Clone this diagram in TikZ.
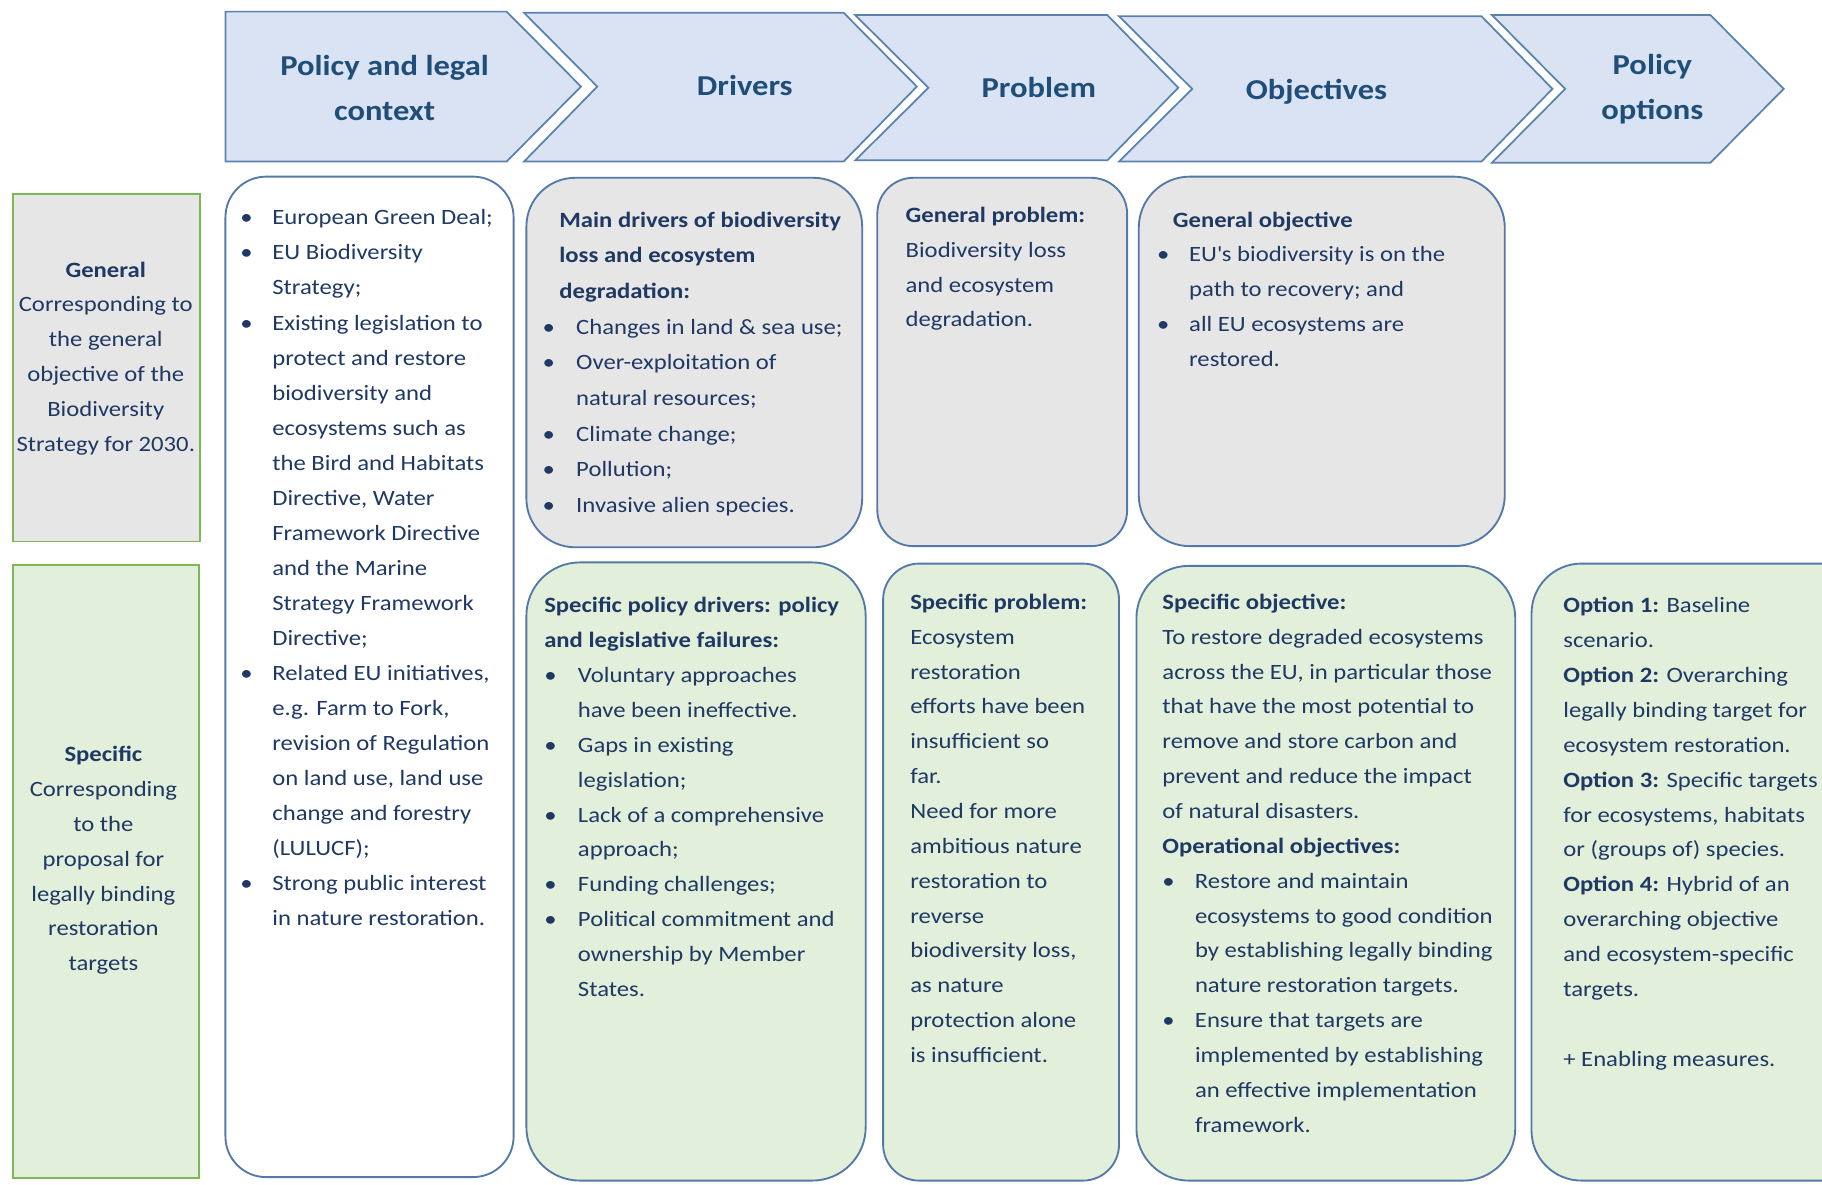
\documentclass[tikz,border=0pt]{standalone}
\usepackage{fontspec}
\setmainfont{Carlito}[FakeStretch=1.13]
\definecolor{hdrfill}{HTML}{DAE3F3}
\definecolor{hdrdraw}{HTML}{5A82AE}
\definecolor{hdrtext}{HTML}{1F4E79}
\definecolor{boxdraw}{HTML}{5479A8}
\definecolor{grayfill}{HTML}{E6E6E6}
\definecolor{greenfill}{HTML}{E2EFDA}
\definecolor{sidegreen}{HTML}{7DB852}
\definecolor{bodytext}{HTML}{1F3864}
\newlength\bw
\newcommand\bl{\makebox[\bw][l]{\textbullet}}
\newcommand\bi{\hspace*{\bw}}
\tikzset{
  hdr/.style={draw=hdrdraw, fill=hdrfill, line width=0.75pt, line join=miter},
  hdrtxt/.style={text=hdrtext, font=\fontsize{12.4}{19.5}\selectfont\bfseries, align=center, inner sep=0pt},
  rbox/.style={draw=boxdraw, line width=0.8pt, rounded corners=#1},
  sidebox/.style={draw=sidegreen, line width=0.8pt},
  body/.style={text=bodytext, font=\fontsize{9.4}{15}\selectfont, inner sep=0pt, anchor=north west, align=left},
  bwidth/.style={execute at begin node={\setlength\bw{#1}}},
}
\begin{document}
\begin{tikzpicture}[x=0.5pt,y=-0.5pt]
\useasboundingbox (0,0) rectangle (1568,1019);
\clip (0,0) rectangle (1568,1019);
% header chevrons
\draw[hdr] (194,10) -- (436,10) -- (500,74.5) -- (436,139) -- (194,139) -- cycle;
\draw[hdr] (451,11) -- (726,11) -- (789,74.5) -- (726,139) -- (451,139) -- (514,74.5) -- cycle;
\draw[hdr] (736,13) -- (953,13) -- (1014,75.5) -- (953,138) -- (736,138) -- (799,75.5) -- cycle;
\draw[hdr] (963,14) -- (1275,14) -- (1336,76.5) -- (1275,139) -- (963,139) -- (1026,76.5) -- cycle;
\draw[hdr] (1284,13) -- (1472,13) -- (1535,76.5) -- (1472,140) -- (1284,140) -- (1347,76.5) -- cycle;
\node[hdrtxt] (h1) at (331,76) {Policy and legal\\context};
\node[hdrtxt] (h2) at (641,74) {Drivers};
\node[hdrtxt] (h3) at (894,75) {Problem};
\node[hdrtxt] (h4) at (1133,79) {Objectives};
\node[hdrtxt] (h5) at (1422,76.5) {Policy\\options};
% side boxes
\draw[sidebox, fill=grayfill] (11,167) rectangle (172,466);
\draw[sidebox, fill=greenfill] (11,486) rectangle (171,1014);
% rounded boxes
\draw[rbox=17.5pt, fill=white] (194,152) rectangle (442,1013);
\draw[rbox=21pt, fill=grayfill] (453,153) rectangle (742,471);
\draw[rbox=15.5pt, fill=grayfill] (755,153) rectangle (970,470);
\draw[rbox=22pt, fill=grayfill] (980,152) rectangle (1295,470);
\draw[rbox=23pt, fill=greenfill] (453,484) rectangle (745,1016);
\draw[rbox=15.5pt, fill=greenfill] (760,485) rectangle (963,1016);
\draw[rbox=22.5pt, fill=greenfill] (978,487) rectangle (1304,1016);
\draw[rbox=21.5pt, fill=greenfill] (1318,485) rectangle (1620,1016);
% side texts
\node[body, anchor=north, align=center] (gen) at (91,217) {\strut\textbf{General}\\Corresponding to\\the general\\objective of the\\Biodiversity\\Strategy for 2030.};
\node[body, anchor=north, align=center] (spec) at (89,634) {\strut\textbf{Specific}\\Corresponding\\to the\\proposal for\\legally binding\\restoration\\targets};
% policy and legal context
\node[body, bwidth=13.75pt, font=\fontsize{9.4}{15.08}\selectfont] (pol) at (206.5,172) {\strut\bl European Green Deal;\\
\bl EU Biodiversity\\ \bi Strategy;\\
\bl Existing legislation to\\ \bi protect and restore\\ \bi biodiversity and\\ \bi ecosystems such as\\ \bi the Bird and Habitats\\ \bi Directive, Water\\ \bi Framework Directive\\ \bi and the Marine\\ \bi Strategy Framework\\ \bi Directive;\\
\bl Related EU initiatives,\\ \bi e.g. Farm to Fork,\\ \bi revision of Regulation\\ \bi on land use, land use\\ \bi change and forestry\\ \bi (LULUCF);\\
\bl Strong public interest\\ \bi in nature restoration.};
% drivers general
\node[body, bwidth=14.5pt, font=\fontsize{9.4}{15.35}\selectfont] (drg) at (466.5,173.5) {\strut\hspace*{7.25pt}\textbf{Main drivers of biodiversity}\\
\hspace*{7.25pt}\textbf{loss and ecosystem}\\
\hspace*{7.25pt}\textbf{degradation:}\\
\bl Changes in land \& sea use;\\
\bl Over-exploitation of\\ \bi natural resources;\\
\bl Climate change;\\
\bl Pollution;\\
\bl Invasive alien species.};
% problem general
\node[body] (prg) at (779,170) {\strut\textbf{General problem:}\\Biodiversity loss\\and ecosystem\\degradation.};
% objectives general
\node[body, bwidth=13.75pt] (obg) at (995.5,174) {\strut\hspace*{6.75pt}\textbf{General objective}\\
\bl EU\textquotesingle s biodiversity is on the\\ \bi path to recovery; and\\
\bl all EU ecosystems are\\ \bi restored.};
% drivers specific
\node[body, bwidth=14.5pt] (drs) at (468,506) {\strut\textbf{Specific policy drivers: policy}\\
\textbf{and legislative failures:}\\
\bl Voluntary approaches\\ \bi have been ineffective.\\
\bl Gaps in existing\\ \bi legislation;\\
\bl Lack of a comprehensive\\ \bi approach;\\
\bl Funding challenges;\\
\bl Political commitment and\\ \bi ownership by Member\\ \bi States.};
% problem specific
\node[body] (prs) at (783,503) {\strut\textbf{Specific problem:}\\Ecosystem\\restoration\\efforts have been\\insufficient so\\far.\\Need for more\\ambitious nature\\restoration to\\reverse\\biodiversity loss,\\as nature\\protection alone\\is insufficient.};
% objectives specific
\node[body, bwidth=14pt] (obs) at (1000,503) {\strut\textbf{Specific objective:}\\
To restore degraded ecosystems\\across the EU, in particular those\\that have the most potential to\\remove and store carbon and\\prevent and reduce the impact\\of natural disasters.\\
\textbf{Operational objectives:}\\
\bl Restore and maintain\\ \bi ecosystems to good condition\\ \bi by establishing legally binding\\ \bi nature restoration targets.\\
\bl Ensure that targets are\\ \bi implemented by establishing\\ \bi an effective implementation\\ \bi framework.};
% policy options
\node[body] (opt) at (1345,506) {\strut\textbf{Option 1:} Baseline\\scenario.\\
\textbf{Option 2:} Overarching\\legally binding target for\\ecosystem restoration.\\
\textbf{Option 3:} Specific targets\\for ecosystems, habitats\\or (groups of) species.\\
\textbf{Option 4:} Hybrid of an\\overarching objective\\and ecosystem-specific\\targets.\\[15pt]
+ Enabling measures.};
\end{tikzpicture}
\end{document}
